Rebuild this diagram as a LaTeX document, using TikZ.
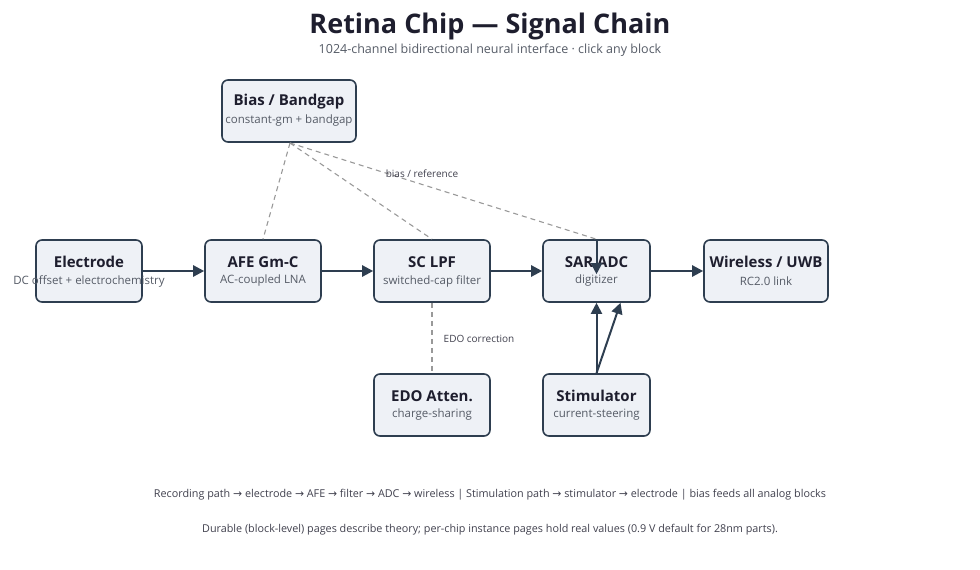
\documentclass[tikz,border=0pt]{standalone}
\usepackage{fontspec}
\setmainfont{Open Sans}
\newfontfamily\dv{DejaVu Sans}
\newcommand{\ra}{{\dv →}}
\usetikzlibrary{arrows.meta}
\definecolor{bd}{HTML}{2E3E50}
\definecolor{fl}{HTML}{EEF1F6}
\definecolor{tt}{HTML}{1E1E2E}
\definecolor{st}{HTML}{555B66}
\begin{document}
\begin{tikzpicture}[x=1pt,y=-1pt,
 blk/.style={draw=bd,fill=fl,line width=1.6pt,rounded corners=6pt,minimum width=#1,minimum height=62pt,inner sep=0pt},
 blk/.default=116pt,
 ttl/.style={font=\fontsize{15}{17}\selectfont\bfseries,text=tt},
 sub/.style={font=\fontsize{11.5}{13}\selectfont,text=st},
 flow/.style={draw=bd,line width=2.4pt,-{Triangle[length=11pt,width=11pt]}},
 dsh/.style={draw=gray!80,line width=1.1pt,dash pattern=on 5pt off 4pt},
 lab/.style={font=\fontsize{10}{12}\selectfont,text=tt!85}]
\useasboundingbox (0,0) rectangle (980,570);
\node[font=\fontsize{27}{31}\selectfont\bfseries,text=tt] (title) at (490,26) {Retina Chip — Signal Chain};
\node[font=\fontsize{12.5}{14}\selectfont,text=st] (subt) at (490,50) {1024-channel bidirectional neural interface · click any block};
\node[blk=106pt] (el) at (89,271) {};
\node[blk] (afe) at (263,271) {};
\node[blk] (lpf) at (432,271) {};
\node[blk=107pt] (adc) at (596.5,271) {};
\node[blk=124pt] (wl) at (766,271) {};
\node[blk=134pt] (bias) at (289,111) {};
\node[blk] (edo) at (432,405) {};
\node[blk=107pt] (stim) at (596.5,405) {};
\foreach \n/\a/\b in {el/Electrode/DC offset + electrochemistry, afe/AFE Gm-C/AC-coupled LNA, lpf/SC LPF/switched-cap filter, adc/SAR ADC/digitizer, wl/{Wireless / UWB}/RC2.0 link, bias/{Bias / Bandgap}/constant-gm + bandgap, edo/EDO Atten./charge-sharing, stim/Stimulator/current-steering}{
 \node[ttl] (\n-t) at ([yshift=9pt]\n.center) {\a};
 \node[sub] (\n-s) at ([yshift=-10pt]\n.center) {\b};}
\coordinate (bb) at (290,143);
\draw[dsh] (bb) -- (afe.north);
\draw[dsh] (bb) -- (lpf.north);
\draw[dsh] (bb) -- (adc.north);
\node[lab] (bl) at (422,174) {bias / reference};
\draw[dsh] (lpf.south) -- (edo.north);
\node[lab] (el2) at (479,339) {EDO correction};
\draw[flow] (el) -- (afe);
\draw[flow] (afe) -- (lpf);
\draw[flow] (lpf) -- (adc);
\draw[flow] (adc) -- (wl);
\draw[flow,line width=2pt] (adc.north) -- ([yshift=-35pt]adc.north);
\draw[flow,line width=2pt] (stim.north) -- (adc.south);
\draw[flow,line width=2pt] (stim.north) -- ([xshift=24pt]adc.south);
\node[font=\fontsize{10.8}{12}\selectfont,text=tt!85] (f1) at (490,495) {Recording path \ra{} electrode \ra{} AFE \ra{} filter \ra{} ADC \ra{} wireless | Stimulation path \ra{} stimulator \ra{} electrode | bias feeds all analog blocks};
\node[font=\fontsize{10.8}{12}\selectfont,text=tt!85] (f2) at (490,530) {Durable (block-level) pages describe theory; per-chip instance pages hold real values (0.9 V default for 28nm parts).};
\end{tikzpicture}
\end{document}
